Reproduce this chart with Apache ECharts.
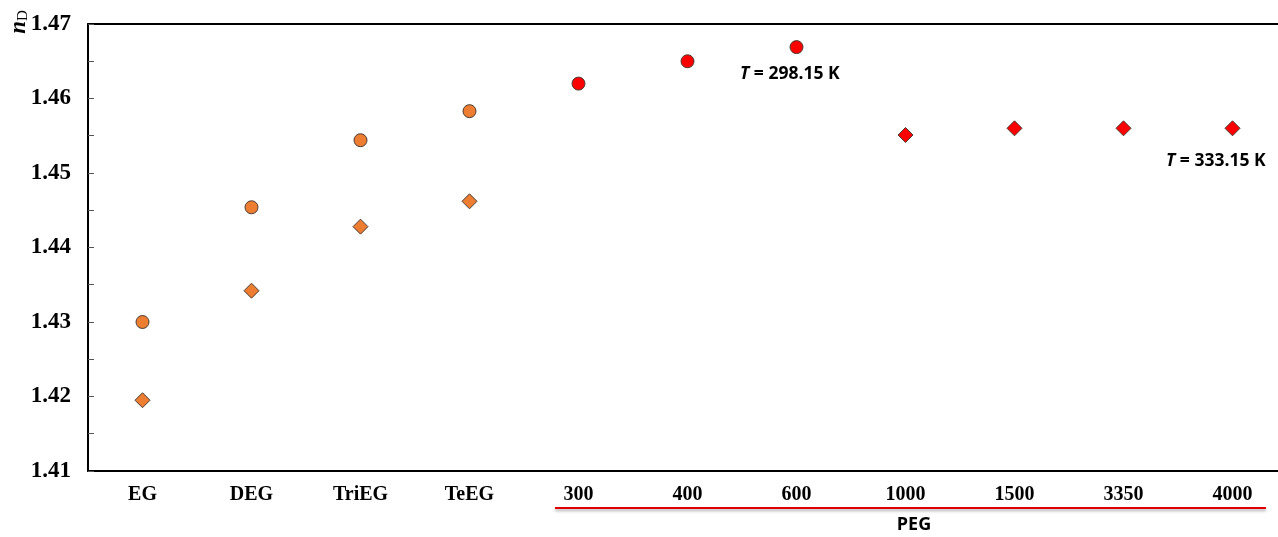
<!DOCTYPE html>
<html>
<head>
<meta charset="utf-8">
<script src="https://cdn.jsdelivr.net/npm/echarts@6/dist/echarts.min.js"></script>
<style>html,body{margin:0;padding:0;background:#fff}#c{width:1278px;height:537px}</style>
</head>
<body>
<div id="c"></div>
<script>
var categories = ['EG','DEG','TriEG','TeEG','300','400','600','1000','1500','3350','4000'];
// T = 298.15 K (circles)
var glycol298 = [1.4300, 1.4454, 1.4544, 1.4583, null, null, null, null, null, null, null];
var peg298    = [null, null, null, null, 1.4620, 1.4650, 1.4669, null, null, null, null];
// T = 333.15 K (diamonds)
var glycol333 = [1.4195, 1.4342, 1.4428, 1.4462, null, null, null, null, null, null, null];
var peg333    = [null, null, null, null, null, null, null, 1.4551, 1.4560, 1.4560, 1.4560];
var yTicks = [1.41, 1.42, 1.43, 1.44, 1.45, 1.46, 1.47];

var chart = echarts.init(document.getElementById('c'));
var orange = '#ED7D31', red = '#FF0000', edge = '#4a3c34';
function sc(name, data, symbol, color, size){
  return {name:name, type:'scatter', data:data, symbol:symbol, symbolSize:size,
    itemStyle:{color:color, borderColor:edge, borderWidth:1, opacity:1}, z:3};
}
chart.setOption({
  animation:false,
  grid:{left:88, top:24, width:1199, height:447, outerBoundsMode:'none', containLabel:false, show:false},
  xAxis:[{type:'category', data:categories, boundaryGap:true,
    axisLine:{lineStyle:{color:'#000', width:2}},
    axisTick:{inside:true, alignWithLabel:true, length:6, lineStyle:{color:'#555', width:1}},
    axisLabel:{color:'#000', fontFamily:'Liberation Serif', fontWeight:'bold', fontSize:20, margin:14},
    splitLine:{show:false}},
    {type:'category', data:categories, position:'top',
    axisLine:{show:true, lineStyle:{color:'#000', width:2}},
    axisTick:{show:false}, axisLabel:{show:false}, splitLine:{show:false}}],
  yAxis:{type:'value', min:yTicks[0], max:yTicks[yTicks.length-1], interval:0.01,
    axisLine:{show:true, lineStyle:{color:'#000', width:2}},
    axisTick:{show:true, inside:true, length:6, lineStyle:{color:'#555', width:1}},
    minorTick:{show:true, splitNumber:2, length:6, lineStyle:{color:'#555', width:1}},
    axisLabel:{color:'#000', fontFamily:'Liberation Serif', fontWeight:'bold', fontSize:23, margin:17,
      formatter:function(v){return v.toFixed(2);}},
    splitLine:{show:false}},
  series:[
    sc('glycol298', glycol298, 'circle', orange, 13),
    sc('peg298', peg298, 'circle', red, 13),
    sc('glycol333', glycol333, 'diamond', orange, 15),
    sc('peg333', peg333, 'diamond', red, 15)
  ],
  graphic:[
    {type:'text', x:19, y:22, rotation:Math.PI/2,
      style:{text:'{n|n}{d|D}', align:'center', verticalAlign:'middle',
        rich:{n:{fontFamily:'Liberation Serif', fontStyle:'italic', fontWeight:'bold', fontSize:23, fill:'#000'},
              d:{fontFamily:'Liberation Serif', fontSize:15, fill:'#000', verticalAlign:'bottom', padding:[9,0,0,0]}}}},
    {type:'text', x:740, y:65,
      style:{text:'{t|T} = 298.15 K', fontFamily:'Open Sans', fontWeight:'bold', fontSize:17.5, fill:'#000',
        rich:{t:{fontFamily:'Open Sans', fontStyle:'italic', fontWeight:'bold', fontSize:17.5, fill:'#000'}}}},
    {type:'text', x:1166, y:152,
      style:{text:'{t|T} = 333.15 K', fontFamily:'Open Sans', fontWeight:'bold', fontSize:17.5, fill:'#000',
        rich:{t:{fontFamily:'Open Sans', fontStyle:'italic', fontWeight:'bold', fontSize:17.5, fill:'#000'}}}},
    {type:'line', shape:{x1:555, y1:508, x2:1266, y2:508},
      style:{stroke:'#E00000', lineWidth:2, shadowColor:'rgba(0,0,0,0.35)', shadowBlur:3, shadowOffsetY:2}},
    {type:'text', x:914, y:525,
      style:{text:'PEG', fontFamily:'Open Sans', fontWeight:'bold', fontSize:18, fill:'#000', align:'center', verticalAlign:'middle'}}
  ]
});
</script>
</body>
</html>
